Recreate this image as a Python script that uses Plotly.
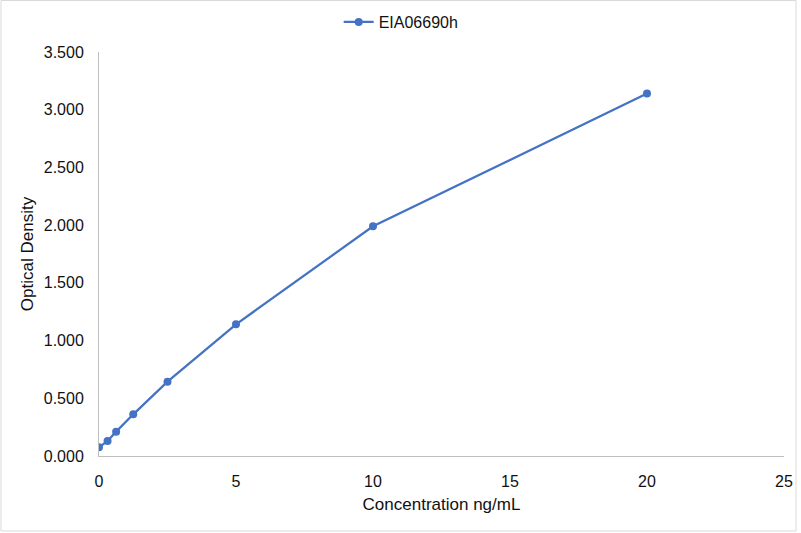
import plotly.graph_objects as go

concentration = [0, 0.3125, 0.625, 1.25, 2.5, 5, 10, 20]
optical_density = [0.075, 0.130, 0.211, 0.361, 0.644, 1.141, 1.990, 3.140]
series_name = "EIA06690h"
y_ticks = [0, 0.5, 1.0, 1.5, 2.0, 2.5, 3.0, 3.5]
x_ticks = [0, 5, 10, 15, 20, 25]

W, H = 801, 533
ml, mr, mt, mb = 99, 17, 52, 77
pw, ph = W - ml - mr, H - mt - mb

fig = go.Figure()
fig.add_trace(go.Scatter(
    x=concentration, y=optical_density, mode="lines+markers", name=series_name,
    line=dict(color="#4472C4", width=2.25),
    marker=dict(color="#4472C4", size=8),
))

font_family = "Liberation Sans, Arial, sans-serif"
txt = "#111111"
fig.update_layout(
    width=W, height=H,
    margin=dict(l=ml, r=mr, t=mt, b=mb, autoexpand=False),
    paper_bgcolor="white", plot_bgcolor="white",
    font=dict(family=font_family, size=16, color=txt),
    showlegend=True,
    legend=dict(orientation="h", x=(400.5 - ml) / pw + 0.001, xanchor="center",
                y=1 + 30 / ph, yanchor="middle",
                font=dict(size=16, color=txt), bgcolor="rgba(0,0,0,0)"),
    xaxis=dict(
        range=[0, 25], tickvals=x_ticks, showgrid=False, zeroline=False, automargin=False,
        showline=True, linecolor="#BFBFBF", linewidth=1,
        ticks="outside", ticklen=11, tickcolor="rgba(0,0,0,0)",
        tickfont=dict(size=16, color=txt),
        title=dict(text="Concentration ng/mL", font=dict(size=17, color=txt), standoff=8),
    ),
    yaxis=dict(
        range=[0, 3.5], tickvals=y_ticks, tickformat=".3f", showgrid=False, zeroline=False,
        automargin=False,
        showline=True, linecolor="#BFBFBF", linewidth=1,
        ticks="outside", ticklen=11, tickcolor="rgba(0,0,0,0)",
        tickfont=dict(size=16, color=txt),
        title=dict(text="Optical Density", font=dict(size=17, color=txt), standoff=5),
    ),
)

fig.add_shape(type="rect", xref="paper", yref="paper",
              x0=-(ml - 1) / pw, x1=1 + (mr - 5) / pw,
              y0=-(mb - 2) / ph, y1=1 + (mt - 0.5) / ph,
              line=dict(color="#D9D9D9", width=1), fillcolor="rgba(0,0,0,0)", layer="below")

fig.write_html("out.html", config={"displayModeBar": False},
               post_script="document.body.style.margin='0';document.body.style.overflow='hidden';")
